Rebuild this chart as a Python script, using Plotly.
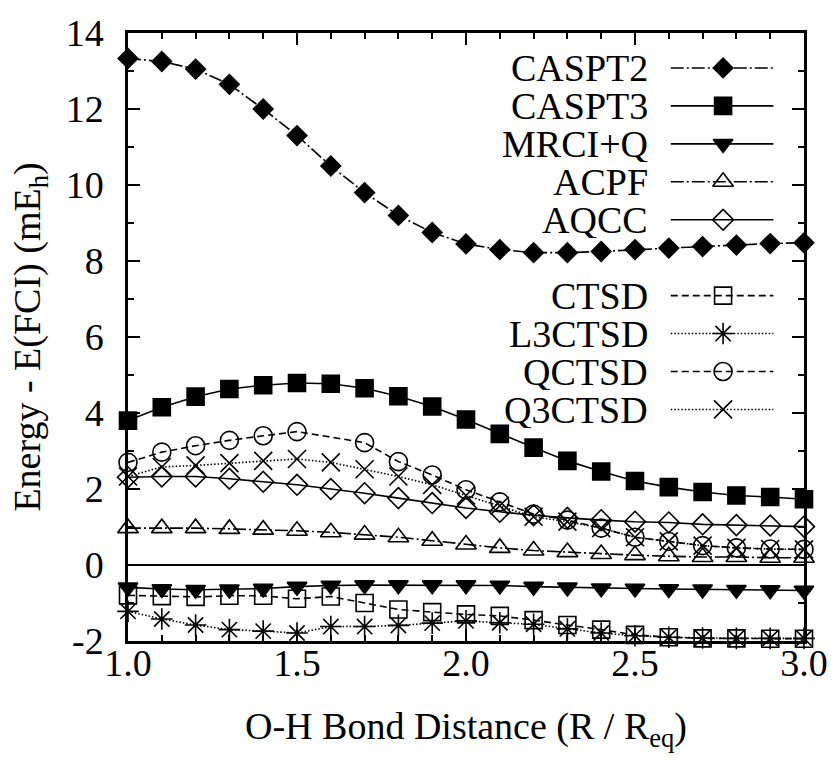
import plotly.graph_objects as go

# O-H stretch of water: error of each method relative to FCI (mE_h)
bond_distance = [1.0, 1.1, 1.2, 1.3, 1.4, 1.5, 1.6, 1.7, 1.8, 1.9, 2.0,
                 2.1, 2.2, 2.3, 2.4, 2.5, 2.6, 2.7, 2.8, 2.9, 3.0]

caspt2 = [13.33, 13.25, 13.05, 12.65, 12.00, 11.30, 10.50, 9.80, 9.20, 8.75, 8.45,
          8.30, 8.22, 8.22, 8.25, 8.30, 8.34, 8.38, 8.42, 8.46, 8.48]
caspt3 = [3.80, 4.15, 4.43, 4.63, 4.73, 4.79, 4.77, 4.65, 4.44, 4.17, 3.83,
          3.45, 3.09, 2.74, 2.46, 2.21, 2.05, 1.92, 1.83, 1.79, 1.73]
mrciq = [-0.59, -0.63, -0.65, -0.64, -0.62, -0.57, -0.54, -0.53, -0.53, -0.53, -0.53,
         -0.54, -0.57, -0.59, -0.61, -0.62, -0.63, -0.64, -0.65, -0.66, -0.67]
acpf = [0.97, 0.97, 0.97, 0.95, 0.93, 0.90, 0.86, 0.80, 0.73, 0.64, 0.54,
        0.45, 0.38, 0.34, 0.29, 0.26, 0.23, 0.21, 0.21, 0.19, 0.19]
aqcc = [2.31, 2.33, 2.33, 2.27, 2.19, 2.11, 2.00, 1.89, 1.76, 1.63, 1.50,
        1.40, 1.31, 1.24, 1.18, 1.14, 1.12, 1.07, 1.05, 1.04, 1.01]
ctsd = [-0.80, -0.82, -0.84, -0.81, -0.81, -0.89, -0.83, -1.00, -1.17, -1.24, -1.30,
        -1.34, -1.45, -1.58, -1.70, -1.84, -1.90, -1.93, -1.93, -1.94, -1.94]
l3ctsd = [-1.22, -1.42, -1.58, -1.70, -1.74, -1.79, -1.62, -1.62, -1.59, -1.53, -1.47,
          -1.52, -1.56, -1.68, -1.79, -1.86, -1.90, -1.92, -1.93, -1.93, -1.93]
qctsd = [2.70, 2.97, 3.14, 3.28, 3.40, 3.51, None, 3.22, 2.72, 2.37, 1.98,
         1.66, 1.34, 1.18, 0.97, 0.73, 0.62, 0.51, 0.45, 0.42, 0.41]
q3ctsd = [2.33, 2.58, 2.62, 2.68, 2.74, 2.79, 2.70, 2.52, 2.33, 2.11, 1.83,
          1.56, 1.27, 1.14, 0.97, 0.73, 0.62, 0.51, 0.45, 0.42, 0.41]

method_names = ["CASPT2", "CASPT3", "MRCI+Q", "ACPF", "AQCC",
                "CTSD", "L3CTSD", "QCTSD", "Q3CTSD"]
method_values = [caspt2, caspt3, mrciq, acpf, aqcc, ctsd, l3ctsd, qctsd, q3ctsd]

y_tick_values = [-2, 0, 2, 4, 6, 8, 10, 12, 14]
y_tick_text = ["-2", "0", "2", "4", "6", "8", "10", "12", "14"]
x_tick_values = [1.0, 1.5, 2.0, 2.5, 3.0]
x_tick_text = ["1.0", "1.5", "2.0", "2.5", "3.0"]

# line / marker style per method
DASHDOT = "13px,3px,2px,3px"
DASHED = "7px,4px"
DOTTED = "1.5px,2px"
STYLES = {
    "CASPT2": dict(symbol="diamond", size=15, dash=DASHDOT),
    "CASPT3": dict(symbol="square", size=17, dash="solid"),
    "MRCI+Q": dict(symbol="triangle-down", size=17, dash="solid"),
    "ACPF": dict(symbol="triangle-up-open", size=18, dash=DASHDOT),
    "AQCC": dict(symbol="diamond-open", size=16, dash="solid"),
    "CTSD": dict(symbol="square-open", size=17, dash=DASHED),
    "L3CTSD": dict(symbol="asterisk-open", size=18, dash=DOTTED),
    "QCTSD": dict(symbol="circle-open", size=18, dash=DASHED),
    "Q3CTSD": dict(symbol="x-thin-open", size=18, dash=DOTTED),
}

FONT = "Liberation Serif"
FS = 38
BLACK = "#000000"

# plot-area box in page pixels
LEFT, RIGHT, TOP, BOTTOM = 128, 813, 24, 641
W, H = 840, 761

fig = go.Figure()

for name, vals in zip(method_names, method_values):
    st = STYLES[name]
    fig.add_trace(go.Scatter(
        x=bond_distance, y=vals, mode="lines+markers", name=name,
        connectgaps=True, showlegend=False, cliponaxis=False,
        line=dict(color=BLACK, width=1.6, dash=st["dash"]),
        marker=dict(symbol=st["symbol"], size=st["size"], color=BLACK,
                    line=dict(color=BLACK, width=1.6)),
    ))

# key: right-aligned labels with a line sample and a point, one blank row
ROW0, ROW_STEP = 59.5, 38.5
key_rows = [0, 1, 2, 3, 4, 6, 7, 8, 9]
SAMPLE_X0, SAMPLE_XM, SAMPLE_X1, LABEL_X = 678, 731, 782, 657
annotations = []
for name, row in zip(method_names, key_rows):
    st = STYLES[name]
    yy = ROW0 + ROW_STEP * row
    fig.add_trace(go.Scatter(
        x=[SAMPLE_X0, SAMPLE_X1], y=[yy, yy], mode="lines", xaxis="x2", yaxis="y2",
        showlegend=False, hoverinfo="skip",
        line=dict(color=BLACK, width=1.6, dash=st["dash"]),
    ))
    fig.add_trace(go.Scatter(
        x=[SAMPLE_XM], y=[yy], mode="markers", xaxis="x2", yaxis="y2",
        showlegend=False, hoverinfo="skip",
        marker=dict(symbol=st["symbol"], size=st["size"], color=BLACK,
                    line=dict(color=BLACK, width=1.6)),
    ))
    annotations.append(dict(
        x=LABEL_X, y=yy, xref="x2", yref="y2", text=name, showarrow=False,
        xanchor="right", yanchor="middle", height=37, valign="middle",
        font=dict(family=FONT, size=FS, color=BLACK),
    ))

axis_common = dict(
    showline=True, linewidth=2.5, linecolor=BLACK, mirror="ticks",
    ticks="inside", ticklen=12, tickwidth=1.5, tickcolor=BLACK,
    showgrid=False, tickfont=dict(family=FONT, size=FS, color=BLACK),
)

fig.update_layout(
    width=W, height=H,
    margin=dict(l=LEFT, r=W - RIGHT, t=TOP, b=H - BOTTOM),
    paper_bgcolor="white", plot_bgcolor="white",
    showlegend=False,
    font=dict(family=FONT, size=FS, color=BLACK),
    xaxis=dict(
        range=[1.0, 3.0], tickmode="array", tickvals=x_tick_values, ticktext=x_tick_text,
        minor=dict(dtick=0.1, tick0=1.0, ticks="inside", ticklen=6, tickwidth=1.5,
                   tickcolor=BLACK, showgrid=False),
        zeroline=False, ticklabelstandoff=-13,
        title=dict(text="O-H Bond Distance (R / R<sub>eq</sub>)",
                   font=dict(family=FONT, size=FS), standoff=30),
        **axis_common,
    ),
    yaxis=dict(
        range=[-2, 14], tickmode="array", tickvals=y_tick_values, ticktext=y_tick_text,
        minor=dict(dtick=1, tick0=0, ticks="inside", ticklen=6, tickwidth=1.5,
                   tickcolor=BLACK, showgrid=False),
        zeroline=True, zerolinecolor=BLACK, zerolinewidth=2, ticklabelstandoff=14,
        title=dict(text="Energy - E(FCI) (mE<sub>h</sub>)",
                   font=dict(family=FONT, size=FS), standoff=14),
        **axis_common,
    ),
    xaxis2=dict(overlaying="x", range=[LEFT, RIGHT], visible=False, fixedrange=True),
    yaxis2=dict(overlaying="y", range=[BOTTOM, TOP], visible=False, fixedrange=True),
    annotations=annotations,
)

fig.write_html("out.html")
